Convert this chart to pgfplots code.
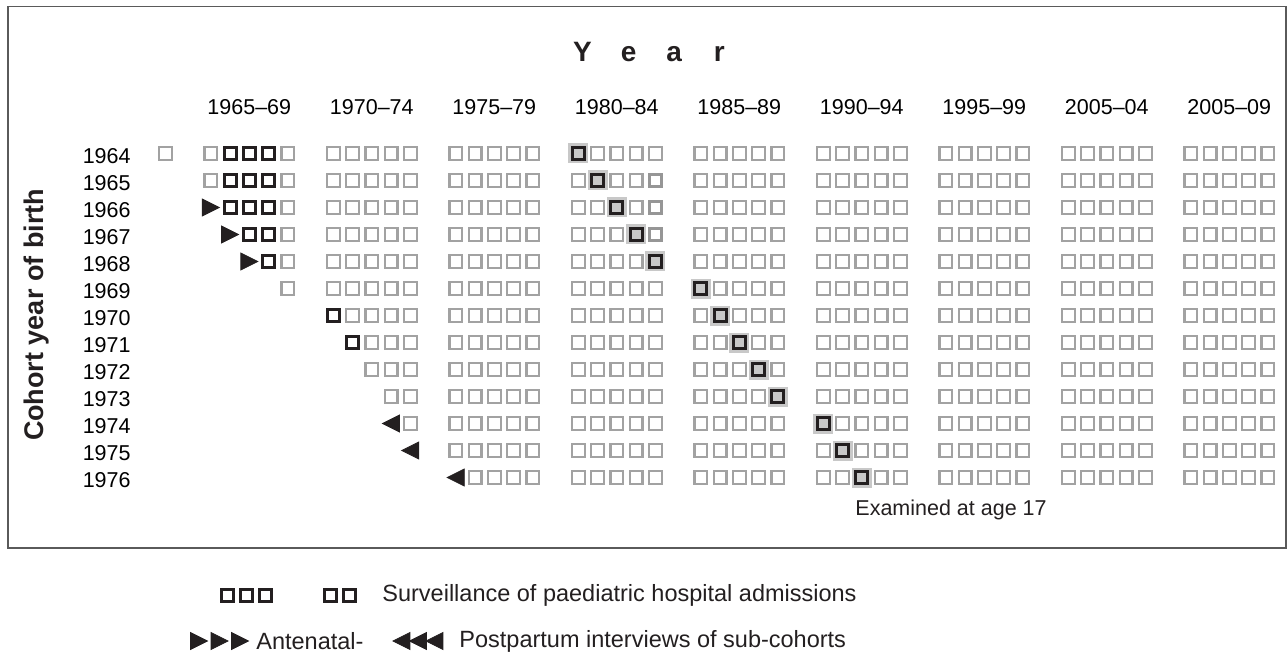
\documentclass[border=0pt]{standalone}
\usepackage{fontspec}
\setmainfont{Liberation Sans}
\usepackage{pgfplots}
\pgfplotsset{compat=1.18}
\definecolor{sqg}{HTML}{A2A2A2}
\definecolor{sqt}{HTML}{969696}
\definecolor{sqk}{HTML}{231F20}
\definecolor{hl}{HTML}{C8C8C8}
\definecolor{frm}{HTML}{5A5A5A}
\pgfplotsset{yr/.style={x filter/.expression={x+1.364*floor((x-1964.5)/5)}}}
\begin{document}
\begin{tikzpicture}[font=\fontsize{10.75bp}{13bp}\selectfont]
\begin{axis}[
  scale only axis, width=644bp, height=329bp,
  xmin=1954.049, xmax=2020.958, ymin=1958.315, ymax=1982.685,
  y dir=reverse, clip=false,
  axis line style={draw=none}, tick style={draw=none}, major tick length=0pt,
  xtick={1967,1973.364,1979.727,1986.091,1992.455,1998.818,2005.182,2011.545,2017.909},
  xticklabels={1965--69,1970--74,1975--79,1980--84,1985--89,1990--94,1995--99,2005--04,2005--09},
  xticklabel pos=upper,
  xticklabel style={anchor=center, inner sep=0pt, yshift=-53.75bp},
  ytick={1964,1965,1966,1967,1968,1969,1970,1971,1972,1973,1974,1975,1976},
  yticklabels={1964,1965,1966,1967,1968,1969,1970,1971,1972,1973,1974,1975,1976},
  yticklabel style={anchor=east, inner sep=0pt, xshift=65.5bp, yshift=-1.25bp},
]
\path (rel axis cs:0,0) rectangle (rel axis cs:1,1);
\draw[frm, line width=0.75bp] (axis cs:1954.465,1958.556) rectangle (axis cs:2020.855,1978.611);

% halo behind examined squares
\addplot[yr, only marks, color=hl, mark=square*, mark size=4.75bp, mark options={draw=hl, fill=hl, line width=0.5bp}] coordinates {
(1980,1964)(1981,1965)(1982,1966)(1983,1967)(1984,1968)(1985,1969)(1986,1970)(1987,1971)(1988,1972)(1989,1973)(1990,1974)(1991,1975)(1992,1976)};

% grey squares
\addplot[yr, only marks, color=sqg, mark=square, mark size=3.2bp, mark options={draw=sqg, line width=1.1bp}] coordinates {
(1964,1964)(1965,1964)(1969,1964)(1970,1964)(1971,1964)(1972,1964)(1973,1964)(1974,1964)(1975,1964)(1976,1964)(1977,1964)(1978,1964)(1979,1964)(1981,1964)(1982,1964)(1983,1964)(1984,1964)(1985,1964)(1986,1964)(1987,1964)(1988,1964)(1989,1964)(1990,1964)(1991,1964)(1992,1964)(1993,1964)(1994,1964)(1995,1964)(1996,1964)(1997,1964)(1998,1964)(1999,1964)(2000,1964)(2001,1964)(2002,1964)(2003,1964)(2004,1964)(2005,1964)(2006,1964)(2007,1964)(2008,1964)(2009,1964)
(1965,1965)(1969,1965)(1970,1965)(1971,1965)(1972,1965)(1973,1965)(1974,1965)(1975,1965)(1976,1965)(1977,1965)(1978,1965)(1979,1965)(1980,1965)(1982,1965)(1983,1965)(1985,1965)(1986,1965)(1987,1965)(1988,1965)(1989,1965)(1990,1965)(1991,1965)(1992,1965)(1993,1965)(1994,1965)(1995,1965)(1996,1965)(1997,1965)(1998,1965)(1999,1965)(2000,1965)(2001,1965)(2002,1965)(2003,1965)(2004,1965)(2005,1965)(2006,1965)(2007,1965)(2008,1965)(2009,1965)
(1969,1966)(1970,1966)(1971,1966)(1972,1966)(1973,1966)(1974,1966)(1975,1966)(1976,1966)(1977,1966)(1978,1966)(1979,1966)(1980,1966)(1981,1966)(1983,1966)(1985,1966)(1986,1966)(1987,1966)(1988,1966)(1989,1966)(1990,1966)(1991,1966)(1992,1966)(1993,1966)(1994,1966)(1995,1966)(1996,1966)(1997,1966)(1998,1966)(1999,1966)(2000,1966)(2001,1966)(2002,1966)(2003,1966)(2004,1966)(2005,1966)(2006,1966)(2007,1966)(2008,1966)(2009,1966)
(1969,1967)(1970,1967)(1971,1967)(1972,1967)(1973,1967)(1974,1967)(1975,1967)(1976,1967)(1977,1967)(1978,1967)(1979,1967)(1980,1967)(1981,1967)(1982,1967)(1985,1967)(1986,1967)(1987,1967)(1988,1967)(1989,1967)(1990,1967)(1991,1967)(1992,1967)(1993,1967)(1994,1967)(1995,1967)(1996,1967)(1997,1967)(1998,1967)(1999,1967)(2000,1967)(2001,1967)(2002,1967)(2003,1967)(2004,1967)(2005,1967)(2006,1967)(2007,1967)(2008,1967)(2009,1967)
(1969,1968)(1970,1968)(1971,1968)(1972,1968)(1973,1968)(1974,1968)(1975,1968)(1976,1968)(1977,1968)(1978,1968)(1979,1968)(1980,1968)(1981,1968)(1982,1968)(1983,1968)(1985,1968)(1986,1968)(1987,1968)(1988,1968)(1989,1968)(1990,1968)(1991,1968)(1992,1968)(1993,1968)(1994,1968)(1995,1968)(1996,1968)(1997,1968)(1998,1968)(1999,1968)(2000,1968)(2001,1968)(2002,1968)(2003,1968)(2004,1968)(2005,1968)(2006,1968)(2007,1968)(2008,1968)(2009,1968)
(1969,1969)(1970,1969)(1971,1969)(1972,1969)(1973,1969)(1974,1969)(1975,1969)(1976,1969)(1977,1969)(1978,1969)(1979,1969)(1980,1969)(1981,1969)(1982,1969)(1983,1969)(1984,1969)(1986,1969)(1987,1969)(1988,1969)(1989,1969)(1990,1969)(1991,1969)(1992,1969)(1993,1969)(1994,1969)(1995,1969)(1996,1969)(1997,1969)(1998,1969)(1999,1969)(2000,1969)(2001,1969)(2002,1969)(2003,1969)(2004,1969)(2005,1969)(2006,1969)(2007,1969)(2008,1969)(2009,1969)
(1971,1970)(1972,1970)(1973,1970)(1974,1970)(1975,1970)(1976,1970)(1977,1970)(1978,1970)(1979,1970)(1980,1970)(1981,1970)(1982,1970)(1983,1970)(1984,1970)(1985,1970)(1987,1970)(1988,1970)(1989,1970)(1990,1970)(1991,1970)(1992,1970)(1993,1970)(1994,1970)(1995,1970)(1996,1970)(1997,1970)(1998,1970)(1999,1970)(2000,1970)(2001,1970)(2002,1970)(2003,1970)(2004,1970)(2005,1970)(2006,1970)(2007,1970)(2008,1970)(2009,1970)
(1972,1971)(1973,1971)(1974,1971)(1975,1971)(1976,1971)(1977,1971)(1978,1971)(1979,1971)(1980,1971)(1981,1971)(1982,1971)(1983,1971)(1984,1971)(1985,1971)(1986,1971)(1988,1971)(1989,1971)(1990,1971)(1991,1971)(1992,1971)(1993,1971)(1994,1971)(1995,1971)(1996,1971)(1997,1971)(1998,1971)(1999,1971)(2000,1971)(2001,1971)(2002,1971)(2003,1971)(2004,1971)(2005,1971)(2006,1971)(2007,1971)(2008,1971)(2009,1971)
(1972,1972)(1973,1972)(1974,1972)(1975,1972)(1976,1972)(1977,1972)(1978,1972)(1979,1972)(1980,1972)(1981,1972)(1982,1972)(1983,1972)(1984,1972)(1985,1972)(1986,1972)(1987,1972)(1989,1972)(1990,1972)(1991,1972)(1992,1972)(1993,1972)(1994,1972)(1995,1972)(1996,1972)(1997,1972)(1998,1972)(1999,1972)(2000,1972)(2001,1972)(2002,1972)(2003,1972)(2004,1972)(2005,1972)(2006,1972)(2007,1972)(2008,1972)(2009,1972)
(1973,1973)(1974,1973)(1975,1973)(1976,1973)(1977,1973)(1978,1973)(1979,1973)(1980,1973)(1981,1973)(1982,1973)(1983,1973)(1984,1973)(1985,1973)(1986,1973)(1987,1973)(1988,1973)(1990,1973)(1991,1973)(1992,1973)(1993,1973)(1994,1973)(1995,1973)(1996,1973)(1997,1973)(1998,1973)(1999,1973)(2000,1973)(2001,1973)(2002,1973)(2003,1973)(2004,1973)(2005,1973)(2006,1973)(2007,1973)(2008,1973)(2009,1973)
(1974,1974)(1975,1974)(1976,1974)(1977,1974)(1978,1974)(1979,1974)(1980,1974)(1981,1974)(1982,1974)(1983,1974)(1984,1974)(1985,1974)(1986,1974)(1987,1974)(1988,1974)(1989,1974)(1991,1974)(1992,1974)(1993,1974)(1994,1974)(1995,1974)(1996,1974)(1997,1974)(1998,1974)(1999,1974)(2000,1974)(2001,1974)(2002,1974)(2003,1974)(2004,1974)(2005,1974)(2006,1974)(2007,1974)(2008,1974)(2009,1974)
(1975,1975)(1976,1975)(1977,1975)(1978,1975)(1979,1975)(1980,1975)(1981,1975)(1982,1975)(1983,1975)(1984,1975)(1985,1975)(1986,1975)(1987,1975)(1988,1975)(1989,1975)(1990,1975)(1992,1975)(1993,1975)(1994,1975)(1995,1975)(1996,1975)(1997,1975)(1998,1975)(1999,1975)(2000,1975)(2001,1975)(2002,1975)(2003,1975)(2004,1975)(2005,1975)(2006,1975)(2007,1975)(2008,1975)(2009,1975)
(1976,1976)(1977,1976)(1978,1976)(1979,1976)(1980,1976)(1981,1976)(1982,1976)(1983,1976)(1984,1976)(1985,1976)(1986,1976)(1987,1976)(1988,1976)(1989,1976)(1990,1976)(1991,1976)(1993,1976)(1994,1976)(1995,1976)(1996,1976)(1997,1976)(1998,1976)(1999,1976)(2000,1976)(2001,1976)(2002,1976)(2003,1976)(2004,1976)(2005,1976)(2006,1976)(2007,1976)(2008,1976)(2009,1976)
};

% thicker grey squares
\addplot[yr, only marks, color=sqt, mark=square, mark size=3bp, mark options={draw=sqt, line width=1.5bp}] coordinates {
(1984,1965)(1984,1966)(1984,1967)};

% surveillance of paediatric hospital admissions (dark squares)
\addplot[yr, only marks, color=sqk, mark=square*, mark size=3bp, mark options={draw=sqk, fill=white, line width=1.5bp}] coordinates {
(1966,1964)(1967,1964)(1968,1964)(1966,1965)(1967,1965)(1968,1965)(1966,1966)(1967,1966)(1968,1966)(1967,1967)(1968,1967)(1968,1968)(1970,1970)(1971,1971)};

% examined at age 17
\addplot[yr, only marks, color=sqk, mark=square*, mark size=3bp, mark options={draw=sqk, fill=hl, line width=1.5bp}] coordinates {
(1980,1964)(1981,1965)(1982,1966)(1983,1967)(1984,1968)(1985,1969)(1986,1970)(1987,1971)(1988,1972)(1989,1973)(1990,1974)(1991,1975)(1992,1976)};

% antenatal interviews
\addplot[yr, only marks, color=sqk, mark=triangle*, mark size=4.9bp, mark options={draw=none, fill=sqk, xshift=-1.4bp, xscale=1.15, rotate=-90}] coordinates {
(1965,1966)(1966,1967)(1967,1968)};

% postpartum interviews
\addplot[yr, only marks, color=sqk, mark=triangle*, mark size=4.9bp, mark options={draw=none, fill=sqk, xshift=1.4bp, xscale=1.15, rotate=90}] coordinates {
(1973,1974)(1974,1975)(1975,1976)};

% legend markers
\addplot[only marks, color=sqk, mark=square*, mark size=3bp, mark options={draw=sqk, fill=white, line width=1.5bp}] coordinates {
(1965.842,1980.352)(1966.855,1980.352)(1967.855,1980.352)(1971.192,1980.352)(1972.179,1980.352)};
\addplot[only marks, color=sqk, mark=triangle*, mark size=4.9bp, mark options={draw=none, fill=sqk, xshift=-1.4bp, xscale=1.15, rotate=-90}] coordinates {
(1964.387,1982.056)(1965.452,1982.056)(1966.517,1982.056)};
\addplot[only marks, color=sqk, mark=triangle*, mark size=4.9bp, mark options={draw=none, fill=sqk, xshift=1.4bp, xscale=1.15, rotate=90}] coordinates {
(1974.906,1982.056)(1975.764,1982.056)(1976.621,1982.056)};

\node[anchor=west, inner sep=0pt, font=\fontsize{11.75bp}{13bp}\selectfont, text=sqk] at (axis cs:1973.894,1980.352) {Surveillance of paediatric hospital admissions};
\node[anchor=west, inner sep=0pt, font=\fontsize{11.75bp}{13bp}\selectfont, text=sqk] at (axis cs:1967.348,1982.056) {Antenatal-};
\node[anchor=west, inner sep=0pt, font=\fontsize{11.75bp}{13bp}\selectfont, text=sqk] at (axis cs:1977.894,1982.056) {Postpartum interviews of sub-cohorts};

\node[inner sep=0pt, font=\bfseries\fontsize{14bp}{16bp}\selectfont, text=sqk] at (axis cs:1987.764,1960.241) {Y\hspace{14.5bp}e\hspace{15bp}a\hspace{16bp}r};
\node[rotate=90, inner sep=0pt, font=\bfseries\fontsize{13.5bp}{15bp}\selectfont, text=sqk] at (axis cs:1955.971,1969.981) {Cohort year of birth};
\node[anchor=base west, inner sep=0pt, text=sqk] at (axis cs:1998.465,1977.389) {Examined at age 17};
\end{axis}
\end{tikzpicture}
\end{document}
